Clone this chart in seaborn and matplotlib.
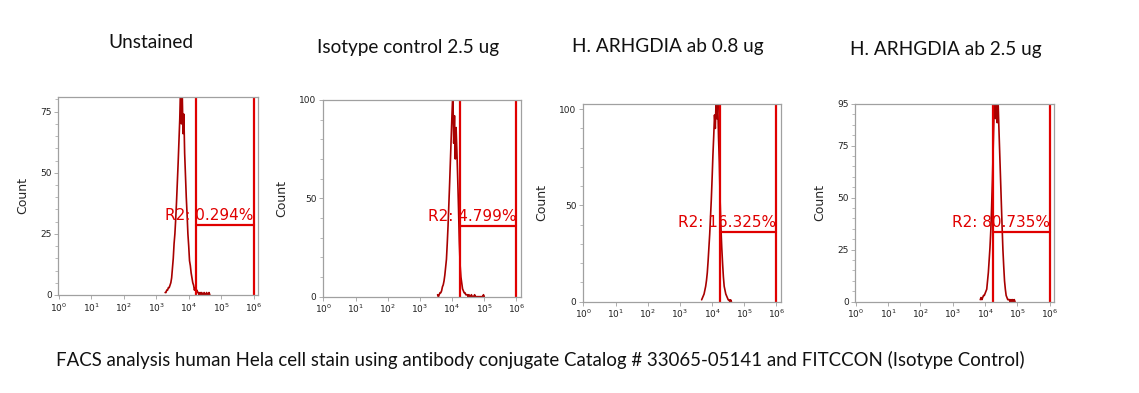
#FACS histograms - 4 panels (Hela cells, FITC)
import numpy as np
import pandas as pd
import matplotlib.pyplot as plt
import seaborn as sns

sns.set_theme(style="white")
plt.rcParams["font.family"] = ["DejaVu Sans"]

#DADOS (contagem por bin, eixo x em log10)
titulos = [
    "Unstained",
    "Isotype control 2.5 ug",
    "H. ARHGDIA ab 0.8 ug",
    "H. ARHGDIA ab 2.5 ug",
]
rotulos_r2 = ["R2: 0.294%", "R2: 4.799%", "R2: 16.325%", "R2: 80.735%"]

largura_bin = 0.025  # largura do bin em log10

#centro do primeiro bin (log10) de cada painel
inicio_log = [3.275, 3.55, 3.675, 3.85]

contagem_unstained = [
    1, 1, 2, 2, 3, 3, 4, 5, 7, 11, 15, 21, 25, 31, 38, 46, 54, 63, 72, 86,
    70, 83, 66, 74, 58, 49, 40, 33, 25, 20, 14, 12, 9, 7, 5, 4, 2, 3, 1, 2,
    1, 1, 0, 1, 0, 1, 0, 0, 1, 0, 0, 1, 0, 0, 1, 0,
]
contagem_isotype = [
    1, 0, 1, 2, 2, 3, 5, 6, 8, 11, 15, 19, 27, 36, 47, 58, 70, 82, 94, 104,
    78, 92, 70, 86, 74, 60, 45, 28, 16, 10, 7, 4, 3, 2, 2, 1, 1, 1, 0, 1,
    0, 0, 1, 0, 0, 0, 1, 0, 0, 0, 0, 0, 0, 0, 0, 0, 0, 1, 0,
]
contagem_ab08 = [
    1, 2, 3, 4, 6, 8, 11, 15, 21, 28, 35, 44, 53, 64, 76, 86, 97, 90, 106, 95,
    104, 85, 72, 52, 38, 28, 20, 13, 8, 6, 4, 3, 2, 1, 1, 0, 1, 0,
]
contagem_ab25 = [
    1, 2, 1, 2, 3, 3, 4, 5, 6, 10, 14, 20, 26, 34, 45, 58, 74, 90, 100, 88,
    98, 86, 97, 84, 72, 60, 48, 36, 25, 17, 10, 6, 3, 2, 1, 1, 1, 0, 1, 0,
    1, 0, 1, 0,
]
contagens = [contagem_unstained, contagem_isotype, contagem_ab08, contagem_ab25]

#gates R2 (log10 inicio, log10 fim, altura da barra horizontal)
gate_inicio = [4.23, 4.24, 4.24, 4.23]
gate_fim = [6.0, 6.0, 6.0, 6.0]
gate_altura = [28.8, 36.0, 36.4, 33.6]

#limites e ticks do eixo y
y_max = [81, 100, 102.7, 95]
y_ticks = [[0, 25, 50, 75], [0, 50, 100], [0, 50, 100], [0, 25, 50, 75, 95]]
y_minor = [5, 10, 10, 5]

legenda = ("FACS analysis human Hela cell stain using antibody conjugate "
           "Catalog # 33065-05141 and FITCCON (Isotype Control)")

#LAYOUT
posicoes = [
    [0.0509, 0.2494, 0.1756, 0.5038],
    [0.2833, 0.2451, 0.1738, 0.5005],
    [0.5116, 0.2323, 0.1738, 0.5031],
    [0.7507, 0.2323, 0.1747, 0.5031],
]
titulo_xy = [(0.1322, 0.893), (0.3582, 0.880), (0.5865, 0.882), (0.8305, 0.873)]

cor_hist = "#a80000"
cor_gate = "#e00000"
cor_eixo = "#a0a0a0"

fig = plt.figure(figsize=(11.39, 3.93), dpi=100)

for i in range(4):
    ax = fig.add_axes(posicoes[i])
    n = len(contagens[i])
    logx = inicio_log[i] + largura_bin * np.arange(n)
    df = pd.DataFrame({"x": 10 ** logx, "count": contagens[i]})

    sns.lineplot(
        data=df, x="x", y="count", ax=ax,
        color=cor_hist, linewidth=1.2, estimator=None,
    )

    #gate R2
    g0 = 10 ** gate_inicio[i]
    g1 = 10 ** gate_fim[i]
    ax.axvline(g0, color=cor_gate, linewidth=1.6)
    ax.axvline(g1, color=cor_gate, linewidth=1.6)
    ax.plot([g0, g1], [gate_altura[i], gate_altura[i]], color=cor_gate, linewidth=1.6)
    ax.text(g1, gate_altura[i] + 0.8, rotulos_r2[i], color=cor_gate,
            fontsize=11, ha="right", va="bottom")

    ax.set_xscale("log")
    ax.set_xlim(10 ** -0.02, 10 ** 6.13)
    ax.set_ylim(0, y_max[i])
    ax.set_xticks([10 ** k for k in range(7)])
    ax.set_xticklabels([f"$10^{{{k}}}$" for k in range(7)], fontsize=6.5)
    ax.set_yticks(y_ticks[i])
    ax.set_yticklabels([str(t) for t in y_ticks[i]], fontsize=6.5)
    ax.set_yticks(np.arange(0, y_max[i], y_minor[i]), minor=True)

    ax.tick_params(axis="both", which="major", length=3, width=0.6,
                   color=cor_eixo, pad=1.5, labelcolor="#222222",
                   bottom=True, left=True)
    ax.tick_params(axis="both", which="minor", length=2, width=0.5,
                   color=cor_eixo, bottom=True, left=True)

    for sp in ax.spines.values():
        sp.set_color(cor_eixo)
        sp.set_linewidth(0.9)

    ax.set_xlabel("")
    ax.set_ylabel("Count", fontsize=9, labelpad=8)

    fig.text(titulo_xy[i][0], titulo_xy[i][1], titulos[i], fontsize=13.7,
             family=["Lato", "DejaVu Sans"], ha="center", va="center",
             color="#111111")

fig.text(0.474, 0.083, legenda, fontsize=13.4, family=["Lato", "DejaVu Sans"],
         ha="center", va="center", color="#111111")

plt.savefig("out.png", dpi=100)
